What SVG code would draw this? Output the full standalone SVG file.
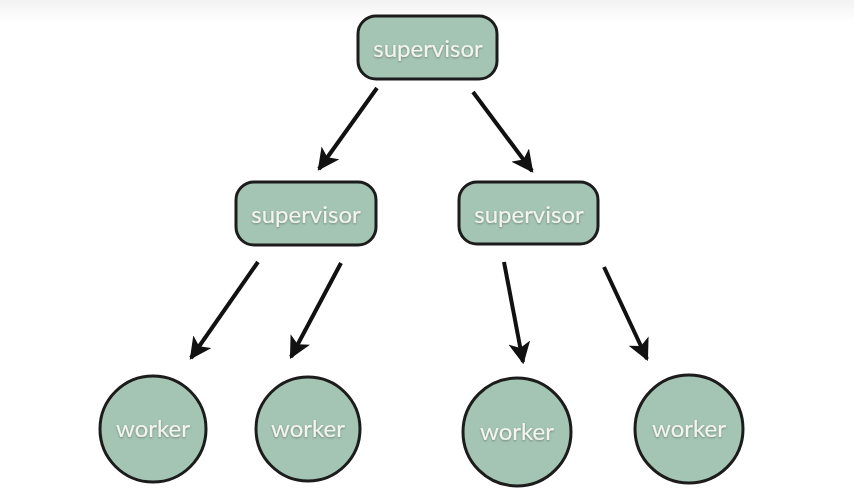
<svg xmlns="http://www.w3.org/2000/svg" width="854" height="502" viewBox="0 0 854 502">
<defs>
<linearGradient id="band" x1="0" y1="0" x2="0" y2="1">
<stop offset="0" stop-color="#f2f2f2"/>
<stop offset="1" stop-color="#ffffff"/>
</linearGradient>
<marker id="arr" viewBox="0 0 10 10" refX="9" refY="5" markerWidth="5.5" markerHeight="5.5" orient="auto" markerUnits="strokeWidth">
<path d="M0,0 L10,5 L0,10 L2.5,5 Z" fill="#111"/>
</marker>
<filter id="sh" x="-10%" y="-20%" width="120%" height="150%">
<feDropShadow dx="0" dy="1" stdDeviation="0.8" flood-color="#000" flood-opacity="0.35"/>
</filter>
</defs>
<style>
.node{fill:#a5c5b4;stroke:#1c1c1c;stroke-width:3}
.lbl{font-family:Lato,"Open Sans",sans-serif;font-size:24px;fill:#f4f4ee;text-anchor:middle;filter:url(#sh)}
.edge{stroke:#111;stroke-width:4;fill:none;marker-end:url(#arr)}
</style>
<rect x="0" y="0" width="854" height="22" fill="url(#band)"/>
<g id="connectors">
<line class="edge" x1="377" y1="88" x2="319" y2="169"/>
<line class="edge" x1="473" y1="92" x2="532" y2="171"/>
<line class="edge" x1="258" y1="262" x2="191" y2="358"/>
<line class="edge" x1="341" y1="263" x2="291" y2="357"/>
<line class="edge" x1="504" y1="262" x2="523" y2="362"/>
<line class="edge" x1="604" y1="267" x2="647" y2="359"/>
</g>
<g id="sup-top">
<rect class="node" x="358" y="16" width="139" height="63" rx="18"/>
<text class="lbl" x="428" y="57">supervisor</text>
</g>
<g id="sup-left">
<rect class="node" x="236" y="182" width="140" height="63" rx="18"/>
<text class="lbl" x="306" y="223">supervisor</text>
</g>
<g id="sup-right">
<rect class="node" x="459" y="182" width="139" height="62" rx="18"/>
<text class="lbl" x="529" y="223">supervisor</text>
</g>
<g id="worker1">
<circle class="node" cx="153" cy="429" r="53"/>
<text class="lbl" x="153" y="437">worker</text>
</g>
<g id="worker2">
<circle class="node" cx="308" cy="429" r="52"/>
<text class="lbl" x="308" y="437">worker</text>
</g>
<g id="worker3">
<circle class="node" cx="517" cy="432" r="54"/>
<text class="lbl" x="517" y="440">worker</text>
</g>
<g id="worker4">
<circle class="node" cx="689" cy="429" r="54"/>
<text class="lbl" x="689" y="437">worker</text>
</g>
</svg>
